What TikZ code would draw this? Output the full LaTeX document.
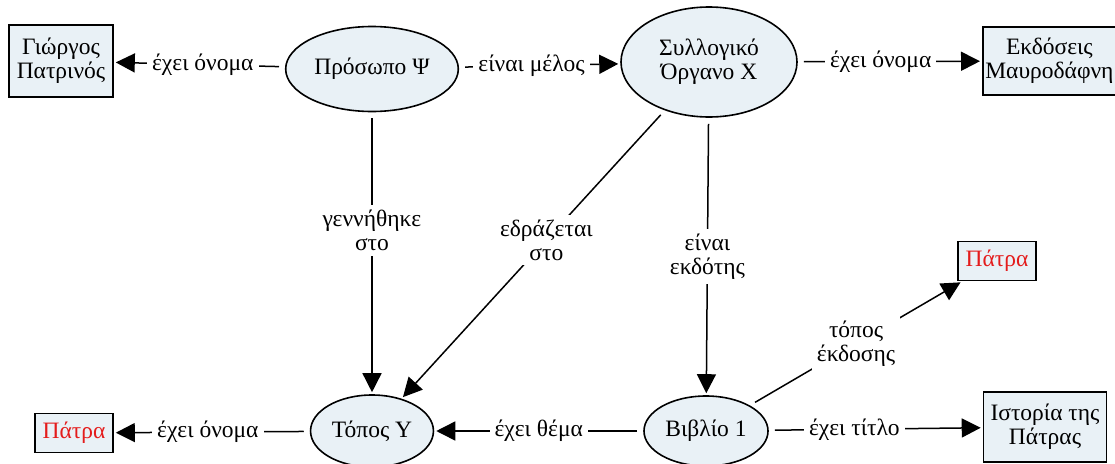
\documentclass[tikz,border=0pt]{standalone}
\usepackage{fontspec}
\setmainfont{Liberation Serif}
\usetikzlibrary{arrows.meta,shapes.geometric}

\begin{document}
\begin{tikzpicture}[x=1pt,y=-1pt,font=\fontsize{23.5}{24}\selectfont,
        concepto/.style={ellipse,draw,line width=1.6pt,fill=celeste},
        caja/.style={rectangle,draw,line width=1.6pt,fill=celeste,align=center},
        enlace/.style={line width=1.5pt,shorten <=6pt,shorten >=2pt,-{Triangle[length=19pt,width=19pt]}},
        etiqueta/.style={fill=white,align=center,inner sep=5pt}]
        %colores
        \definecolor{celeste}{RGB}{233,241,246}
        \definecolor{rojo}{RGB}{228,28,28}

        % marco
        \useasboundingbox (0,0) rectangle (1115,463);

        % Conceptos arriba
        \node[caja,minimum width=104,minimum height=72] (giorgos) at (61,61) {Γιώργος\\Πατρινός};
        \node[concepto,minimum width=153,minimum height=85] (prosopo) at (372,69) {Πρόσωπο Ψ};
        \node[concepto,minimum width=176,minimum height=110,align=center] (syllogiko) at (709,62) {Συλλογικό\\Όργανο X};
        \node[caja,minimum height=68,inner xsep=2.5pt,anchor=west] (ekdoseis) at (982,61) {Εκδόσεις\\Μαυροδάφνη};

        % Conceptos abajo
        \node[caja,minimum width=78,minimum height=39] (patra1) at (74,433) {\color{rojo}Πάτρα};
        \node[concepto,minimum width=122,minimum height=72] (topos) at (372,431) {Τόπος Y};
        \node[concepto,minimum width=118,minimum height=70] (vivlio) at (706,431) {Βιβλίο 1};
        \node[caja,minimum width=123,minimum height=70] (istoria) at (1045,427) {Ιστορία της\\Πάτρας};
        \node[caja,minimum width=78,minimum height=39] (patra2) at (997,261) {\color{rojo}Πάτρα};

        % Enlaces
        \draw[enlace] (prosopo) -- node[etiqueta,pos=0.48]{έχει όνομα} (giorgos);
        \draw[enlace] (prosopo) -- node[etiqueta,pos=0.45]{είναι μέλος} (syllogiko);
        \draw[enlace] (syllogiko) -- node[etiqueta,pos=0.45]{έχει όνομα} (ekdoseis);
        \draw[enlace] (prosopo) -- node[etiqueta,pos=0.42]{γεννήθηκε\\στο} (topos);
        \draw[enlace] (syllogiko) -- node[etiqueta,pos=0.45]{εδράζεται\\στο} (topos);
        \draw[enlace] (syllogiko) -- node[etiqueta]{είναι\\εκδότης} (vivlio);
        \draw[enlace] (topos) -- node[etiqueta,pos=0.52]{έχει όνομα} (patra1);
        \draw[enlace] (vivlio) -- node[etiqueta]{έχει θέμα} (topos);
        \draw[enlace] (vivlio) -- node[etiqueta,pos=0.4]{έχει τίτλο} (istoria);
        \draw[enlace] (vivlio) -- node[etiqueta]{τόπος\\έκδοσης} (patra2);
    \end{tikzpicture}
\end{document}
